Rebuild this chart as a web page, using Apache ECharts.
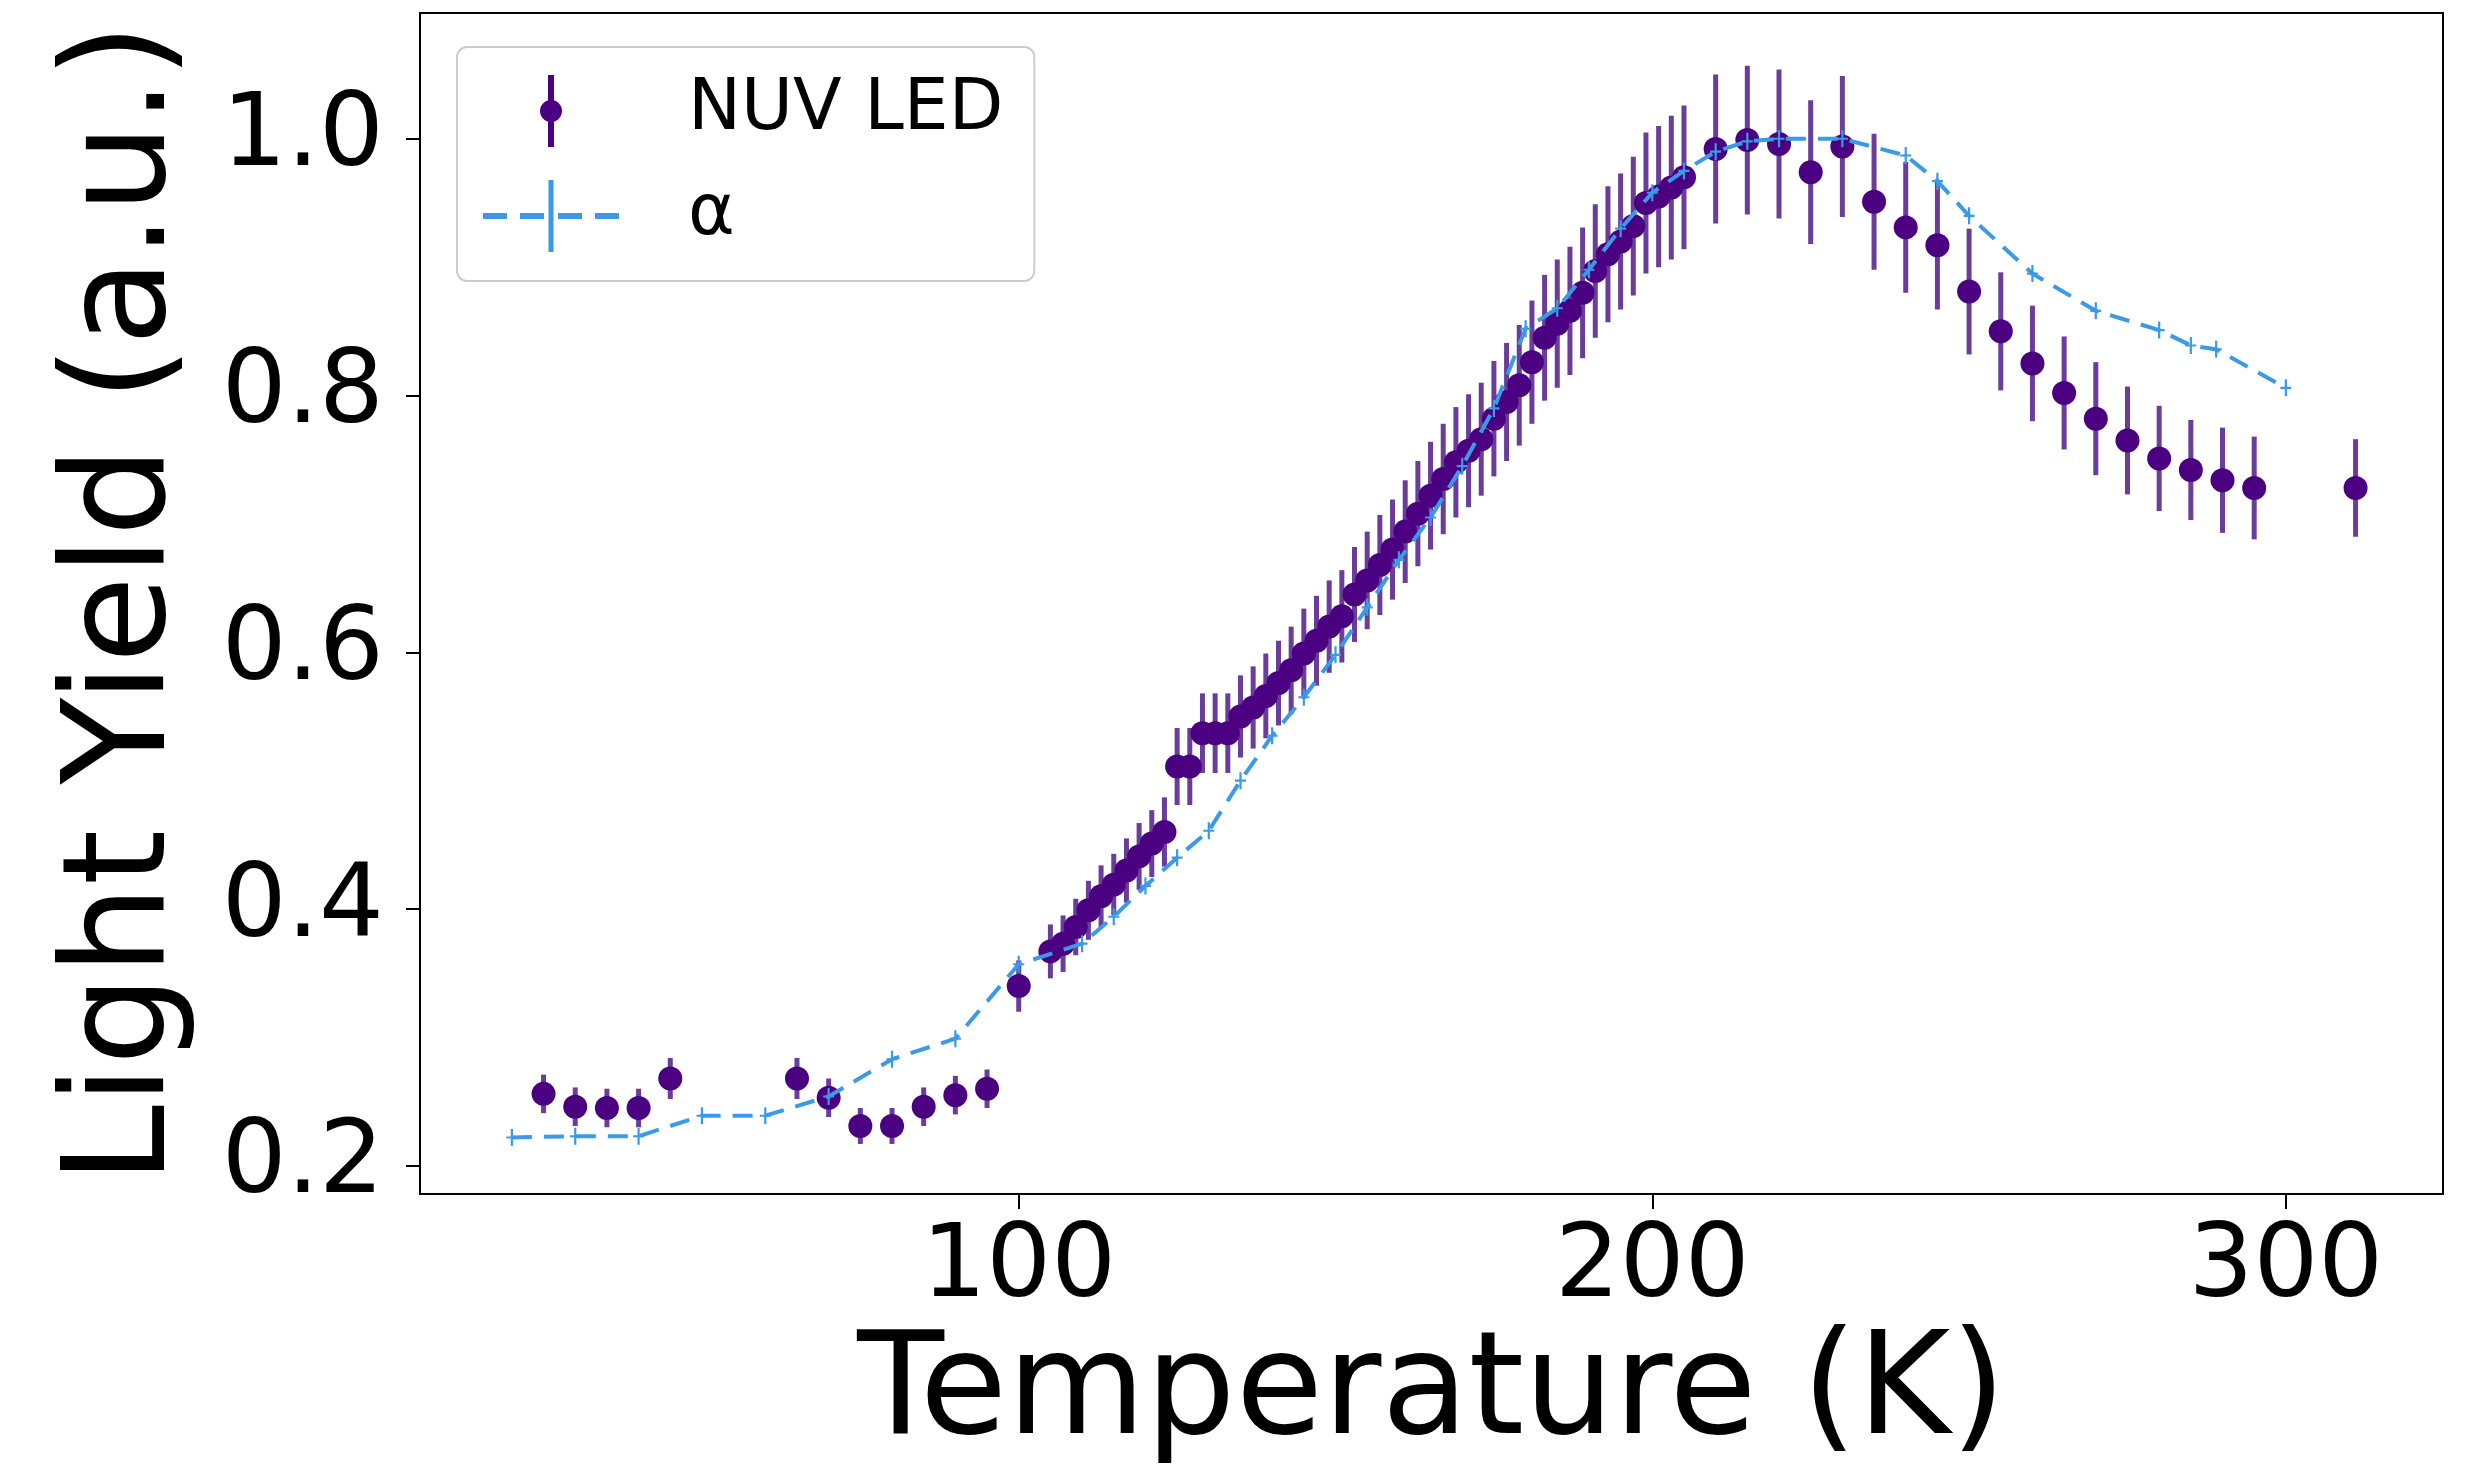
<!DOCTYPE html>
<html>
<head>
<meta charset="utf-8">
<script src="https://cdn.jsdelivr.net/npm/echarts@6/dist/echarts.min.js"></script>
<style>
html,body{margin:0;padding:0;background:#fff;}
#chart{width:2469px;height:1476px;}
</style>
</head>
<body>
<div id="chart"></div>
<script>
// ---- data ----
const nuvT = [25,30,35,40,45,65,70,75,80,85,90,95,100,
  105,107,109,111,113,115,117,119,121,123,125,127,129,131,133,135,137,139,141,143,145,147,149,151,153,155,157,159,161,163,165,167,169,171,173,175,177,179,181,183,185,187,189,191,193,195,197,199,201,203,205,
  210,215,220,225,230,235,240,245,250,255,260,265,270,275,280,285,290,295,311];
const nuvY = [0.256,0.246,0.245,0.245,0.268,0.268,0.253,0.231,0.231,0.246,0.255,0.260,0.340,
  0.367,0.373,0.386,0.399,0.410,0.419,0.430,0.441,0.451,0.460,0.511,0.511,0.537,0.537,0.537,0.550,0.557,0.566,0.576,0.586,0.599,0.609,0.620,0.628,0.645,0.656,0.668,0.680,0.694,0.708,0.722,0.735,0.748,0.757,0.766,0.782,0.795,0.808,0.826,0.845,0.856,0.866,0.880,0.897,0.910,0.920,0.932,0.950,0.955,0.962,0.970,
  0.992,0.999,0.996,0.974,0.994,0.951,0.931,0.917,0.881,0.850,0.825,0.802,0.782,0.765,0.751,0.742,0.734,0.728,0.728];
const nuvErr = [0.015,0.015,0.015,0.015,0.016,0.016,0.015,0.014,0.014,0.015,0.015,0.015,0.020,
  0.021,0.022,0.022,0.023,0.024,0.024,0.025,0.026,0.026,0.027,0.030,0.030,0.031,0.031,0.031,0.032,0.032,0.033,0.033,0.034,0.035,0.035,0.036,0.036,0.037,0.038,0.039,0.039,0.040,0.041,0.042,0.043,0.043,0.044,0.044,0.045,0.046,0.047,0.048,0.049,0.050,0.050,0.051,0.052,0.053,0.053,0.054,0.055,0.055,0.056,0.056,
  0.058,0.058,0.058,0.056,0.055,0.053,0.051,0.050,0.049,0.046,0.045,0.044,0.044,0.042,0.041,0.039,0.041,0.040,0.038];

const alphaT = [20,30,40,50,60,70,80,90,100,110,115,120,125,130,135,140,145,150,155,160,165,170,175,180,185,190,195,200,205,210,215,220,230,240,245,250,260,270,280,285,289,300];
const alphaY = [0.222,0.223,0.223,0.239,0.239,0.254,0.283,0.299,0.357,0.373,0.394,0.418,0.440,0.461,0.500,0.535,0.565,0.598,0.635,0.672,0.705,0.745,0.790,0.852,0.868,0.898,0.930,0.958,0.975,0.990,0.998,1.000,1.000,0.987,0.967,0.940,0.895,0.866,0.851,0.839,0.836,0.806];

const xTicks = [100,200,300];
const yTicks = [0.2,0.4,0.6,0.8,1.0];
const seriesNames = ['NUV LED','α'];
const axisTitles = {x:'Temperature (K)', y:'Light Yield (a.u.)'};

// ---- chart ----
const FONT = 'DejaVu Sans';
const NUV_DOT = '#4b0082';
const NUV_BAR = '#6a3d9a';
const ALPHA = '#3a9ae8';

const chart = echarts.init(document.getElementById('chart'), null, {renderer:'canvas'});

const nuvData = nuvT.map((t,i)=>[t, nuvY[i], nuvErr[i]]);
const alphaData = alphaT.map((t,i)=>[t, alphaY[i]]);

function renderErr(params, api){
  const x = api.value(0), y = api.value(1), e = api.value(2);
  const a = api.coord([x, y + e]);
  const b = api.coord([x, y - e]);
  return {type:'line', shape:{x1:a[0], y1:a[1], x2:b[0], y2:b[1]},
          style:{stroke:NUV_BAR, lineWidth:5}};
}

// error bar split into two pieces so the dot is not cut out of the fill
const nuvIcon = 'path://M8,0 L14,0 L14,27 L8,27 Z M8,45 L14,45 L14,72 L8,72 Z M0,36 A11,11 0 1,1 22,36 A11,11 0 1,1 0,36 Z';
const alphaIcon = 'path://M0,33 L24,33 L24,39 L0,39 Z M37,33 L61,33 L61,39 L37,39 Z M75,33 L99,33 L99,39 L75,39 Z M112,33 L136,33 L136,39 L112,39 Z M65.5,0 L70.5,0 L70.5,72 L65.5,72 Z';
const alphaSymbol = 'path://M4,0 L6,0 L6,16 L4,16 Z M0,7 L10,7 L10,9 L0,9 Z';

chart.setOption({
  animation:false,
  backgroundColor:'#fff',
  grid:{left:420, right:26, top:13, bottom:282, show:true, borderColor:'#000', borderWidth:2, backgroundColor:'#fff', containLabel:false},
  legend:{
    left:457, top:47, orient:'vertical',
    itemWidth:136, itemHeight:72, itemGap:33,
    padding:[28,31,29,26],
    backgroundColor:'rgba(255,255,255,0.85)', borderColor:'#cccccc', borderWidth:2, borderRadius:10,
    textStyle:{fontFamily:FONT, fontSize:71, color:'#000', padding:[0,0,0,64]},
    data:[{name:seriesNames[0], icon:nuvIcon, itemStyle:{color:NUV_DOT}},
          {name:seriesNames[1], icon:alphaIcon, itemStyle:{color:ALPHA}}]
  },
  xAxis:{
    type:'value', min:5.5, max:324.8,
    name:axisTitles.x, nameLocation:'middle', nameGap:118,
    nameTextStyle:{fontFamily:FONT, fontSize:142, color:'#000'},
    axisLine:{show:true, onZero:false, lineStyle:{color:'#000', width:2}},
    axisTick:{show:true, inside:false, length:15, lineStyle:{color:'#000', width:2}, customValues:xTicks},
    axisLabel:{fontFamily:FONT, fontSize:102, color:'#000', margin:24, customValues:xTicks,
      formatter:(v)=>String(v)},
    splitLine:{show:false}
  },
  yAxis:{
    type:'value', min:0.178, max:1.098,
    name:axisTitles.y, nameLocation:'middle', nameGap:222,
    nameTextStyle:{fontFamily:FONT, fontSize:142, color:'#000'},
    axisLine:{show:true, onZero:false, lineStyle:{color:'#000', width:2}},
    axisTick:{show:true, inside:false, length:14, lineStyle:{color:'#000', width:2}, customValues:yTicks},
    axisLabel:{fontFamily:FONT, fontSize:102, color:'#000', margin:36, customValues:yTicks,
      formatter:(v)=>Number(v).toFixed(1)},
    splitLine:{show:false}
  },
  series:[
    {name:seriesNames[0], type:'custom', renderItem:renderErr, data:nuvData,
     encode:{x:0, y:1}, clip:true, z:2, itemStyle:{color:NUV_DOT}},
    {name:seriesNames[0], type:'scatter', data:nuvData.map(d=>[d[0],d[1]]),
     symbol:'circle', symbolSize:24, itemStyle:{color:NUV_DOT, opacity:1}, z:3},
    {name:seriesNames[1], type:'line', data:alphaData,
     symbol:alphaSymbol, symbolSize:[11,17], showSymbol:true,
     itemStyle:{color:ALPHA}, lineStyle:{color:ALPHA, width:4, type:[20,12]}, z:4}
  ]
});
</script>
</body>
</html>
